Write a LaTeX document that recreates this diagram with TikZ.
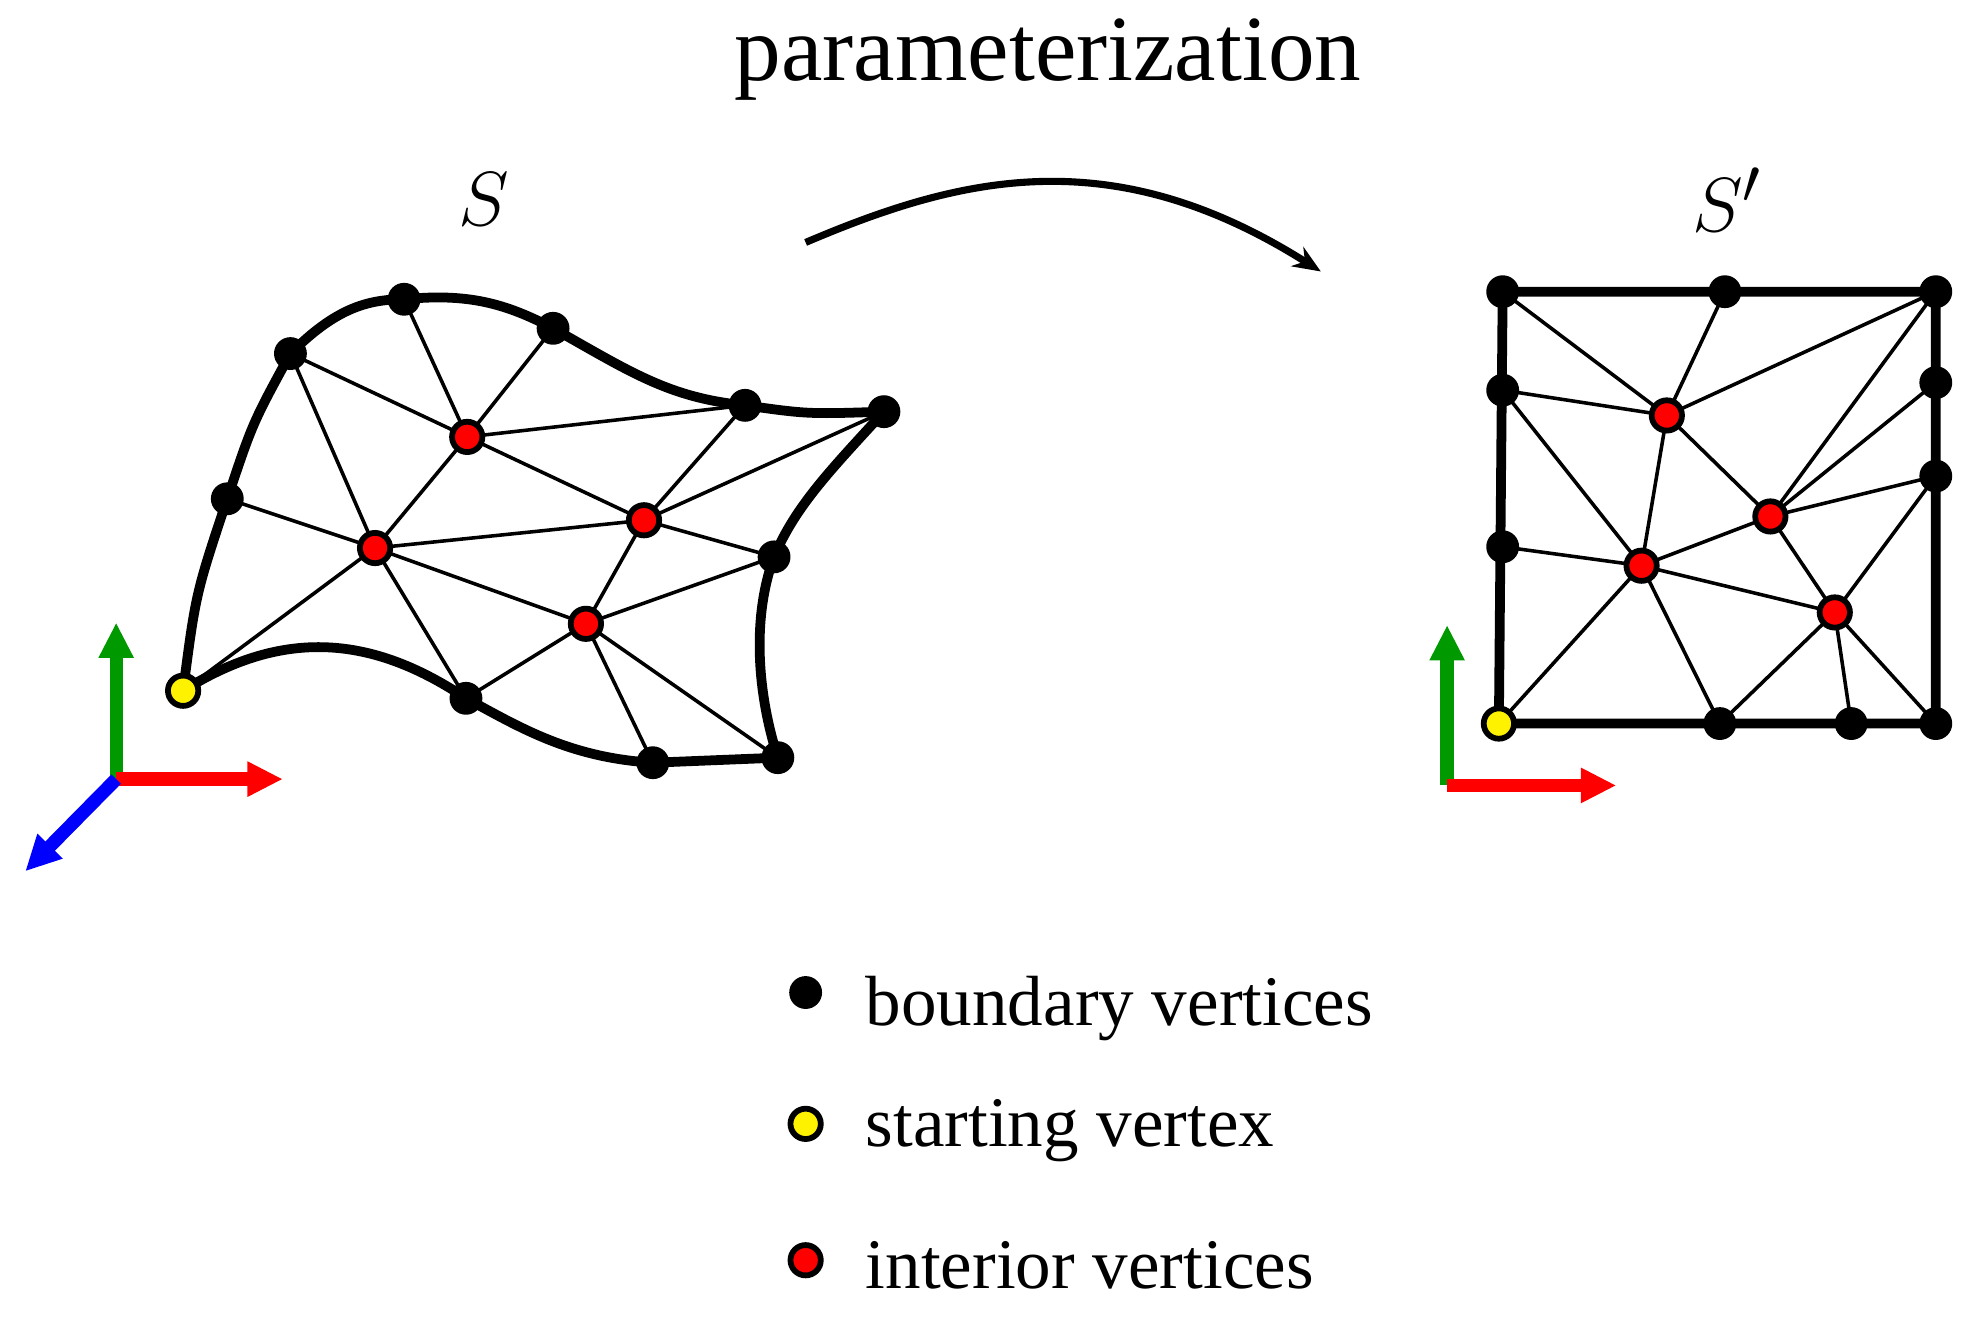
\documentclass[tikz,border=0pt]{standalone}
\usepackage{fontspec}
\setmainfont{Liberation Serif}
\usetikzlibrary{arrows.meta}
\begin{document}
\begin{tikzpicture}[x=0.01cm,y=-0.01cm,
 bd/.style={circle,fill=black,inner sep=0pt,minimum size=0.26cm},
 rd/.style={circle,fill=red,draw=black,line width=1.3pt,inner sep=0pt,minimum size=0.24cm},
 yl/.style={circle,fill=yellow,draw=black,line width=1.3pt,inner sep=0pt,minimum size=0.24cm},
 ed/.style={line width=0.8pt},
 bnd/.style={line width=2.2pt},
 ax/.style={line width=3pt,-{Triangle[length=0.28cm,width=0.26cm]}}]
\useasboundingbox (0,0) rectangle (1568,1054);
\node at (830,47) {\fontsize{21}{24}\selectfont parameterization};
\node at (383,158) {\fontsize{19}{22}\selectfont $S$};
\node at (1368,158) {\fontsize{19}{22}\selectfont $S'$};
% left mesh
\coordinate (Y) at (145,547);
\coordinate (B1) at (180,395); \coordinate (B2) at (230,280); \coordinate (B3) at (320,237);
\coordinate (B4) at (438,260); \coordinate (B5) at (590,321); \coordinate (B6) at (700,326);
\coordinate (B7) at (613,441); \coordinate (B8) at (616,600); \coordinate (B9) at (517,604);
\coordinate (B10) at (369,553);
\coordinate (R1) at (370,346); \coordinate (R2) at (297,434); \coordinate (R3) at (510,412); \coordinate (R4) at (464,494);
\foreach \a/\b in {B2/R1,B3/R1,B4/R1,R1/B5,R1/R2,R1/R3,B2/R2,B1/R2,R2/Y,R2/R3,R2/R4,R2/B10,R3/B5,R3/B6,R3/B7,R3/R4,R4/B7,R4/B10,R4/B9,R4/B8}
  \draw[ed] (\a) -- (\b);
\draw[bnd] (Y) .. controls (155,470) .. (B1) .. controls (200,335) .. (B2)
  .. controls (265,245) and (290,237) .. (B3) .. controls (370,232) and (400,240) .. (B4)
  .. controls (500,295) and (530,315) .. (B5) .. controls (640,328) .. (B6)
  .. controls (660,370) and (630,400) .. (B7) .. controls (595,490) and (600,550) .. (B8)
  -- (B9) .. controls (450,600) and (410,575) .. (B10)
  .. controls (290,500) and (220,500) .. (Y);
\foreach \n in {B1,B2,B3,B4,B5,B6,B7,B8,B9,B10} \node[bd] (n\n) at (\n) {};
\foreach \n in {R1,R2,R3,R4} \node[rd] (n\n) at (\n) {};
\node[yl] (nY) at (Y) {};
% axes left
\coordinate (O1) at (92,617);
\coordinate (gx1) at (92,493); \coordinate (rx1) at (224,617); \coordinate (bx1) at (20,690);
\draw[ax,green!60!black] (O1) -- (gx1);
\draw[ax,red] (O1) -- (rx1);
\draw[ax,blue] (O1) -- (bx1);
% arrow
\coordinate (a1) at (638,192); \coordinate (a2) at (1046,215);
\draw[line width=1.6pt,-{Stealth[length=0.22cm,width=0.18cm]}] (a1) .. controls (760,140) and (880,110) .. (a2);
% right square
\coordinate (TL) at (1190,231); \coordinate (TR) at (1533,231); \coordinate (BL) at (1187,573); \coordinate (BR) at (1533,573);
\coordinate (T1) at (1366,231); \coordinate (L1) at (1190,309); \coordinate (L2) at (1190,433);
\coordinate (Q1) at (1533,303); \coordinate (Q2) at (1533,377);
\coordinate (D1) at (1362,573); \coordinate (D2) at (1466,573);
\coordinate (P1) at (1320,329); \coordinate (P2) at (1402,409); \coordinate (P3) at (1300,448); \coordinate (P4) at (1453,485);
\foreach \a/\b in {TL/P1,T1/P1,TR/P1,L1/P1,L1/P3,P1/P3,P1/P2,P2/TR,P2/Q1,P2/Q2,P2/P3,P2/P4,L2/P3,P3/BL,P3/D1,P3/P4,P4/Q2,P4/D1,P4/D2,P4/BR}
  \draw[ed] (\a) -- (\b);
\draw[bnd] (BL) -- (TL) -- (TR) -- (BR) -- cycle;
\foreach \n in {TL,TR,BR,T1,L1,L2,Q1,Q2,D1,D2} \node[bd] (n\n) at (\n) {};
\foreach \n in {P1,P2,P3,P4} \node[rd] (n\n) at (\n) {};
\node[yl] (nBL) at (BL) {};
% axes right
\coordinate (O2) at (1146,622);
\coordinate (gx2) at (1146,495); \coordinate (rx2) at (1280,622);
\draw[ax,green!60!black] (O2) -- (gx2);
\draw[ax,red] (O2) -- (rx2);
% legend
\node[bd] (l1) at (638,786) {};
\node[yl] (l2) at (638,890) {};
\node[rd] (l3) at (638,998) {};
\node[anchor=base west,inner sep=0pt] (t1) at (685,812) {\fontsize{16}{19}\selectfont boundary vertices};
\node[anchor=base west,inner sep=0pt] (t2) at (685,908) {\fontsize{16}{19}\selectfont starting vertex};
\node[anchor=base west,inner sep=0pt] (t3) at (685,1020) {\fontsize{16}{19}\selectfont interior vertices};
\end{tikzpicture}
\end{document}
